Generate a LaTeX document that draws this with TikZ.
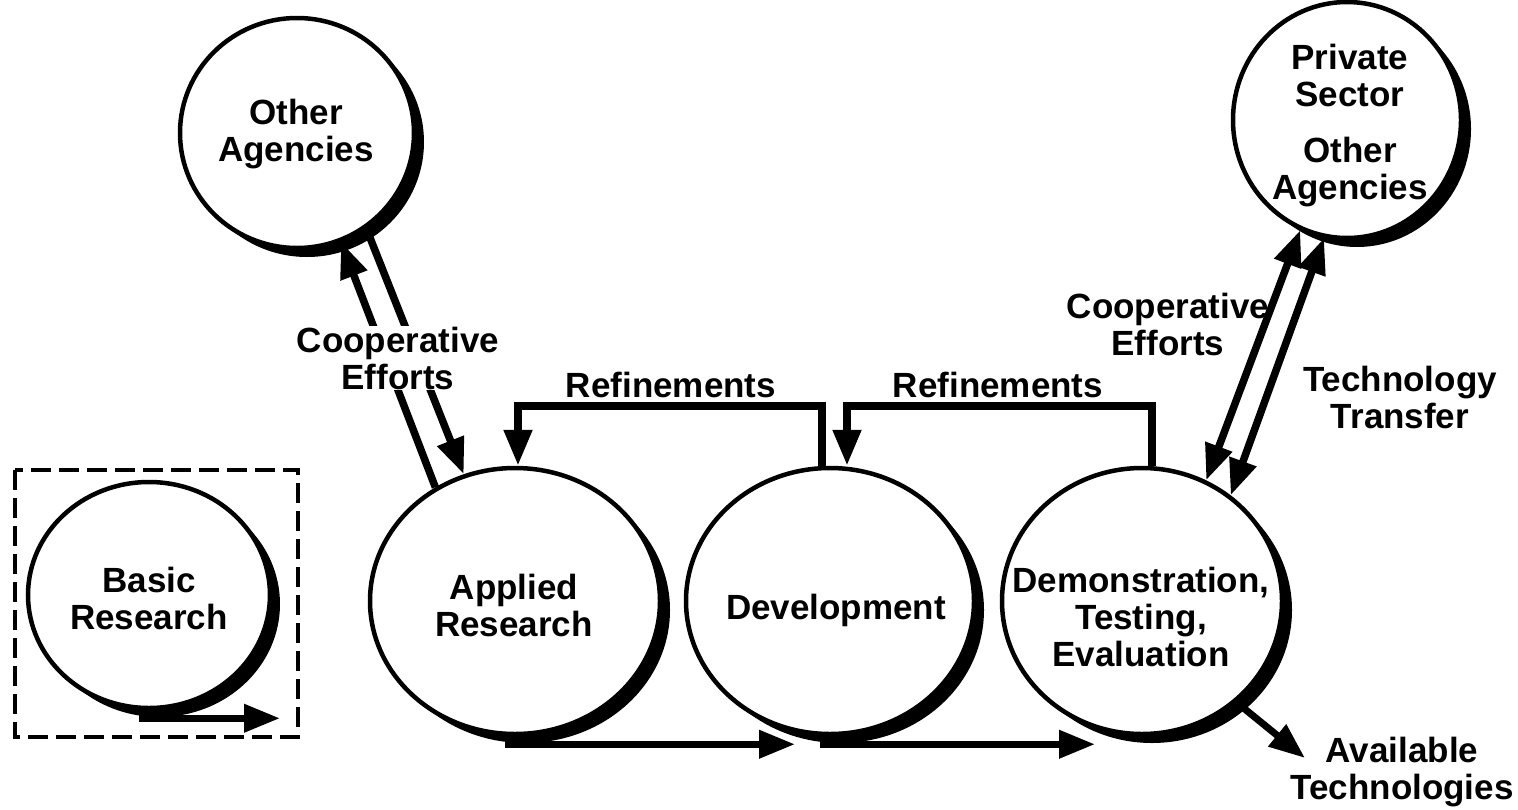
\documentclass[tikz,border=0pt]{standalone}
\usepackage{fontspec}
\setmainfont{Liberation Sans}
\usetikzlibrary{shapes.geometric,shadows,arrows.meta}
\newcommand\figfont{\fontsize{35}{37}\selectfont\bfseries}
\tikzset{
  bigtri/.tip={Triangle[length=36pt,width=27pt]},
  bub/.style={ellipse, draw, line width=4.5pt, fill=white, inner sep=0pt,
    drop shadow={shadow xshift=10pt, shadow yshift=-9pt, opacity=1, fill=black}},
  txt/.style={align=center, font=\figfont, inner sep=1pt},
  flow/.style={line width=7pt, -bigtri},
  refl/.style={line width=8pt, -bigtri},
  coop/.style={line width=7.5pt},
  dashbox/.style={line width=3.5pt, dash pattern=on 20pt off 8pt}
}
\begin{document}
\begin{tikzpicture}[x=1pt,y=-1pt]
\useasboundingbox (0,0) rectangle (1518,809);
\fill[white] (0,0) rectangle (1518,809);

% dashed frame around basic research
\draw[dashbox] (15,470) rectangle (298,737);

% bubbles
\node[bub, minimum width=242pt, minimum height=226pt] (basic) at (149,595) {};
\node[bub, minimum width=234pt, minimum height=230pt] (other) at (297,133) {};
\node[bub, minimum width=228pt, minimum height=236pt] (private) at (1347,120) {};
\node[bub, minimum width=290pt, minimum height=266pt] (applied) at (515,601) {};
\node[bub, minimum width=288pt, minimum height=266pt] (devel) at (830,601) {};
\node[bub, minimum width=280pt, minimum height=266pt] (demo) at (1142,601) {};

% texts inside bubbles
\node[txt] (tbasic) at (149,598) {Basic\\Research};
\node[txt] (tother) at (296,134) {Other\\Agencies};
\node[txt] (tpriv1) at (1350,75) {Private\\Sector};
\node[txt] (tpriv2) at (1350,172) {Other\\Agencies};
\node[txt] (tapplied) at (514,605) {Applied\\Research};
\node[txt] (tdevel) at (836,610) {Development};
\node[txt] (tdemo) at (1141,617) {Demonstration,\\Testing,\\Evaluation};

% bottom flow arrows
\draw[flow] ([shift={(-10,8)}]basic.south) -- ([shift={(131,8)}]basic.south);
\draw[flow] ([shift={(-10,8)}]applied.south) -- ([shift={(-35,8)}]devel.south);
\draw[flow] ([shift={(-10,8)}]devel.south) -- ([shift={(-47,8)}]demo.south);

% refinements
\draw[refl] ([xshift=-8pt]devel.north) -- ++(0,-60) -| ([xshift=3pt]applied.north);
\draw[refl] ([xshift=10pt]demo.north) -- ++(0,-60) -| ([xshift=17pt]devel.north);
\node[txt] (ref1) at (671,385) {Refinements};
\node[txt] (ref2) at (998,385) {Refinements};

% cooperative efforts (left)
\draw[coop,-bigtri] (applied.125) -- (other.-68);
\draw[coop,-bigtri] (other.-54) -- (applied.112);
\node[txt, fill=white] (coopL) at (398,358) {Cooperative\\Efforts};

% cooperative efforts / technology transfer (right)
\draw[coop,bigtri-bigtri] (demo.62) -- (private.-113);
\draw[coop,bigtri-bigtri] (demo.50) -- (private.-101);
\node[txt] (coopR) at (1168,324) {Cooperative\\Efforts};
\node[txt] (techT) at (1400,397) {Technology\\Transfer};

% available technologies
\node[txt] (avail) at (1402,772) {Available\\Technologies};
\coordinate (availtip) at (1305,758);
\draw[flow] (demo.-47) -- (availtip);
\end{tikzpicture}
\end{document}
